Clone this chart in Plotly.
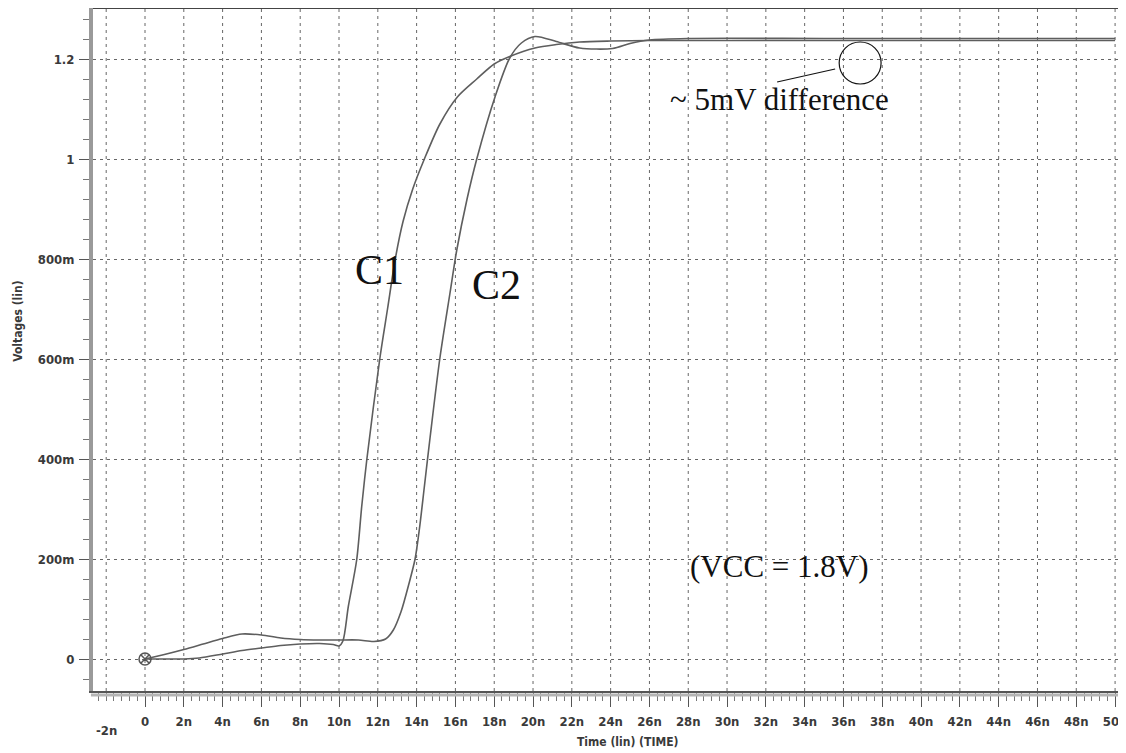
import plotly.graph_objects as go

# ---- data (time in ns, voltage in V) ----
c1_t = [0, 1, 2, 2.8, 4, 5, 6, 7, 8, 9, 9.7, 10.0, 10.2, 10.48, 10.91, 11.17, 11.43, 12.1,
        12.5, 12.9, 13.3, 13.8, 14.4, 15.2, 16.1, 17.1, 18.0, 18.8, 20.1, 21.2, 22.4, 24.0,
        26.0, 28.0, 35.0, 42.0, 50.0]
c1_v = [0, 0, 0, 0.002, 0.010, 0.017, 0.022, 0.027, 0.030, 0.031, 0.029, 0.026, 0.036,
        0.105, 0.198, 0.305, 0.398, 0.600, 0.700, 0.800, 0.875, 0.940, 1.000, 1.070, 1.124,
        1.160, 1.190, 1.205, 1.222, 1.229, 1.234, 1.236, 1.237, 1.237, 1.237, 1.237, 1.237]

c2_t = [0, 1, 2, 3, 4, 5, 6, 7, 8, 9, 10, 11, 11.8, 12.4, 12.8, 13.2, 13.6, 13.92, 14.15,
        14.4, 14.7, 15.2, 15.72, 16.07, 16.6, 17.1, 18.04, 18.8, 19.4, 20.1, 21.2, 22.4,
        24.1, 25.0, 26.0, 28.0, 35.0, 42.0, 50.0]
c2_v = [0, 0.009, 0.019, 0.030, 0.041, 0.050, 0.048, 0.042, 0.039, 0.038, 0.038, 0.038,
        0.035, 0.040, 0.058, 0.095, 0.150, 0.200, 0.262, 0.345, 0.445, 0.602, 0.732, 0.818,
        0.920, 1.000, 1.124, 1.202, 1.232, 1.245, 1.235, 1.222, 1.221, 1.231, 1.238, 1.241,
        1.241, 1.241, 1.241]

x_tick_vals = list(range(0, 52, 2))
x_tick_text = ["0"] + [f"{v}n" for v in range(2, 52, 2)]
y_tick_vals = [0, 0.2, 0.4, 0.6, 0.8, 1.0, 1.2]
y_tick_text = ["0", "200m", "400m", "600m", "800m", "1", "1.2"]

LINE = "#5e5e5e"
GRID = "#666666"
TICKFONT = dict(family="Liberation Sans Narrow, DejaVu Sans Condensed, Arial Narrow, sans-serif",
                size=13, color="#3a3a3a", weight="bold")
TITLEFONT = dict(TICKFONT, size=12)

fig = go.Figure()
fig.add_trace(go.Scatter(x=c1_t, y=c1_v, mode="lines", name="C1",
                         line=dict(color=LINE, width=1.6, shape="spline", smoothing=0.8)))
fig.add_trace(go.Scatter(x=c2_t, y=c2_v, mode="lines", name="C2",
                         line=dict(color=LINE, width=1.6, shape="spline", smoothing=0.8)))
fig.add_trace(go.Scatter(x=[c1_t[0]], y=[c1_v[0]], mode="markers", name="origin",
                         marker=dict(symbol="circle-x-open", size=12, color="#555",
                                     line=dict(width=1.5, color="#555"))))

# the page body has an 8px margin, so the figure is sized/offset to compensate
fig.update_layout(
    width=1118, height=745,
    margin=dict(l=85, r=2, t=0, b=62, autoexpand=False),
    paper_bgcolor="white", plot_bgcolor="white",
    showlegend=False,
    xaxis=dict(
        range=[-2.68, 50.46], automargin=False,
        tickmode="array", tickvals=x_tick_vals, ticktext=x_tick_text,
        ticks="outside", ticklen=14, tickwidth=1, tickcolor="#555",
        ticklabelstandoff=3, ticklabeloverflow="allow",
        tickfont=TICKFONT,
        showline=True, linecolor="#555", linewidth=2,
        showgrid=False, zeroline=False,
        minor=dict(tick0=0, dtick=0.4, ticks="outside", ticklen=8, tickcolor="#777",
                   showgrid=False),
    ),
    yaxis=dict(
        range=[-0.064, 1.302], automargin=False,
        tickmode="array", tickvals=y_tick_vals, ticktext=y_tick_text,
        ticks="outside", ticklen=10, tickwidth=1, tickcolor="#555",
        ticklabelstandoff=2,
        tickfont=TICKFONT,
        showline=True, linecolor="#9a9a9a", linewidth=4,
        showgrid=True, gridcolor=GRID, gridwidth=1, griddash="3px,4px",
        zeroline=False,
        minor=dict(tick0=0, dtick=0.04, ticks="outside", ticklen=6, tickcolor="#777",
                   showgrid=False),
    ),
)

# vertical grid lines every 2n (incl. -2n)
for gx in range(-2, 52, 2):
    fig.add_shape(type="line", xref="x", yref="paper", x0=gx, x1=gx, y0=0, y1=1,
                  line=dict(color=GRID, width=1, dash="3px,4px"), layer="below")

# top frame line and gray band under x axis
fig.add_shape(type="line", xref="paper", yref="paper", x0=0, x1=1, y0=1, y1=1,
              line=dict(color="#444", width=2))
fig.add_shape(type="line", xref="paper", yref="paper", x0=-0.002, x1=1, y0=-0.006, y1=-0.006,
              line=dict(color="#b5b5b5", width=3))

SERIF = "Liberation Serif, Times New Roman, serif"
fig.add_annotation(x=12.1, y=0.778, xref="x", yref="y", text="C1", showarrow=False,
                   font=dict(family=SERIF, size=42, color="#111"))
fig.add_annotation(x=18.1, y=0.748, xref="x", yref="y", text="C2", showarrow=False,
                   font=dict(family=SERIF, size=42, color="#111"))
fig.add_annotation(x=32.7, y=1.12, xref="x", yref="y", text="~ 5mV difference",
                   showarrow=False, xanchor="center",
                   font=dict(family=SERIF, size=31, color="#111"))
fig.add_annotation(x=32.7, y=0.186, xref="x", yref="y", text="(VCC = 1.8V)",
                   showarrow=False, xanchor="center",
                   font=dict(family=SERIF, size=31, color="#111"))

# circle marking the difference and the pointer line
fig.add_shape(type="circle", xref="x", yref="y", x0=35.78, x1=37.94, y0=1.150, y1=1.234,
              line=dict(color="#111", width=1.2))
fig.add_shape(type="line", xref="x", yref="y", x0=32.58, x1=35.57, y0=1.154, y1=1.180,
              line=dict(color="#111", width=1.2))

# axis titles
fig.add_annotation(xref="paper", yref="paper", x=0.519, y=0, yshift=-51, yanchor="middle",
                   text="Time (lin) (TIME)", showarrow=False, font=TITLEFONT)
fig.add_annotation(xref="paper", yref="paper", x=0, xshift=-75, xanchor="center",
                   y=0.542, textangle=-90,
                   text="Voltages (lin)", showarrow=False, font=TITLEFONT)
fig.add_annotation(xref="x", yref="paper", x=-2, y=0, yshift=-39, yanchor="middle",
                   text="-2n", showarrow=False, font=TICKFONT)

fig.write_html("out.html")
